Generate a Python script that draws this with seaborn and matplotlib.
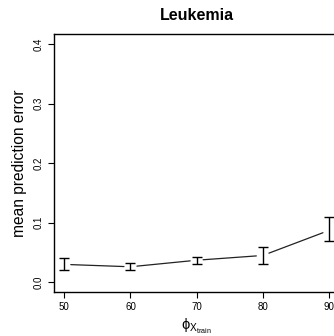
import numpy as np
import pandas as pd
import matplotlib
matplotlib.use("Agg")
import matplotlib.pyplot as plt
import seaborn as sns

# Mean prediction error for each training-set percentage
train_pct = [50, 60, 70, 80, 90]
mean_err = [0.030, 0.026, 0.037, 0.045, 0.087]
lower_err = [0.021, 0.020, 0.031, 0.030, 0.069]
upper_err = [0.041, 0.032, 0.043, 0.060, 0.109]
y_ticks = [0.0, 0.1, 0.2, 0.3, 0.4]

df = pd.DataFrame({"pct": train_pct, "mean": mean_err,
                   "lo": lower_err, "hi": upper_err})

sns.set_theme(style="ticks")
plt.rcParams["font.family"] = ["Liberation Sans", "DejaVu Sans"]
plt.rcParams["text.color"] = "black"
plt.rcParams["axes.labelcolor"] = "black"
plt.rcParams["mathtext.fontset"] = "custom"
plt.rcParams["mathtext.rm"] = "Liberation Sans"
plt.rcParams["mathtext.it"] = "Liberation Sans:italic"
plt.rcParams["mathtext.fallback"] = "stixsans"

W, H = 334, 336
fig = plt.figure(figsize=(W / 100, H / 100), dpi=100)
left, right, top, bottom = 53.7, 339.6, 34.4, 291.8
ax = fig.add_axes([left / W, 1 - bottom / H, (right - left) / W, (bottom - top) / H])

ax.set_xlim(48.4, 91.6)
ax.set_ylim(-0.016, 0.416)

# Error bars for each point
yerr = np.vstack([df["mean"] - df["lo"], df["hi"] - df["mean"]])
ax.errorbar(df["pct"], df["mean"], yerr=yerr, fmt="none", ecolor="black",
            elinewidth=1.0, capsize=3.4, capthick=1.0, zorder=3)

# Connecting line with small gaps around each point
fig.canvas.draw()
pts = ax.transData.transform(np.column_stack([df["pct"], df["mean"]]))
gap = 6.5  # pixels
inv = ax.transData.inverted()
for i in range(len(pts) - 1):
    p0, p1 = pts[i], pts[i + 1]
    d = p1 - p0
    u = d / np.hypot(*d)
    seg = inv.transform(np.vstack([p0 + u * gap, p1 - u * gap]))
    seg_df = pd.DataFrame({"x": seg[:, 0], "y": seg[:, 1]})
    sns.lineplot(data=seg_df, x="x", y="y", ax=ax, color="#222222",
                 linewidth=0.9, sort=False, estimator=None)

ax.set_xticks(train_pct)
ax.set_yticks(y_ticks)
ax.set_xticklabels([str(v) for v in train_pct], fontsize=7)
ax.set_yticklabels([f"{v:.1f}" for v in y_ticks], fontsize=7,
                   rotation=90, va="center")
ax.tick_params(axis="both", direction="out", length=4, width=0.8,
               color="black", labelcolor="black")
ax.tick_params(axis="x", pad=3)
ax.tick_params(axis="y", pad=3)
for s in ax.spines.values():
    s.set_color("black")
    s.set_linewidth(1.0)

ax.set_xlabel(r"$\mathrm{\phi}_{\mathrm{X}_{\mathrm{train}}}$", fontsize=10.5,
              labelpad=4)
ax.set_ylabel("mean prediction error", fontsize=11.2, labelpad=5)
fig.text(196.6 / W, 1 - 15.5 / H, "Leukemia", fontsize=11.5,
         fontweight="bold", ha="center", va="center")

fig.savefig("out.png", dpi=100)
